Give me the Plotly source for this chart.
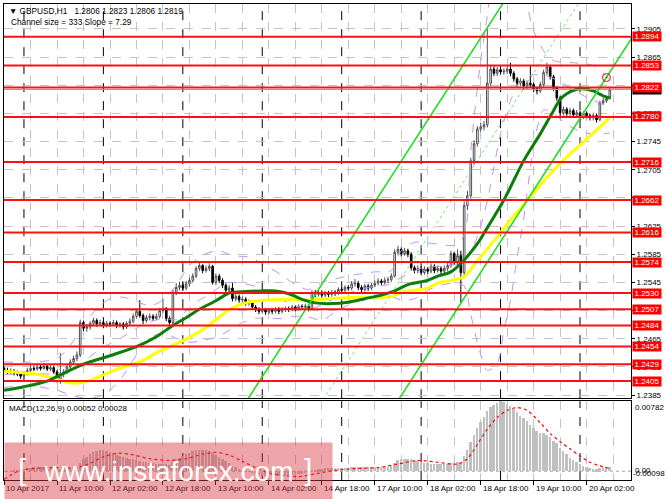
import plotly.graph_objects as go

# GBPUSD H1, bar 0 = 10 Apr 2017 18:00
opens = [1.2423, 1.2420, 1.2418, 1.2419, 1.2416, 1.2415, 1.2412, 1.2415, 1.2420, 1.2423,
         1.2422, 1.2425, 1.2423, 1.2426, 1.2422, 1.2424, 1.2418, 1.2408, 1.2415, 1.2418,
         1.2425, 1.2432, 1.2437, 1.2442, 1.2488, 1.2480, 1.2482, 1.2487, 1.2491, 1.2486,
         1.2488, 1.2484, 1.2487, 1.2486, 1.2488, 1.2484, 1.2486, 1.2482, 1.2487, 1.2490,
         1.2497, 1.2504, 1.2498, 1.2491, 1.2495, 1.2497, 1.2494, 1.2497, 1.2505, 1.2508,
         1.2494, 1.2488, 1.2531, 1.2538, 1.2541, 1.2537, 1.2543, 1.2548, 1.2554, 1.2565,
         1.2569, 1.2562, 1.2565, 1.2568, 1.2545, 1.2554, 1.2548, 1.2541, 1.2534, 1.2537,
         1.2522, 1.2525, 1.2520, 1.2521, 1.2515, 1.2517, 1.2510, 1.2507, 1.2504, 1.2506,
         1.2503, 1.2506, 1.2504, 1.2507, 1.2504, 1.2507, 1.2508, 1.2507, 1.2510, 1.2508,
         1.2511, 1.2510, 1.2511, 1.2508, 1.2531, 1.2528, 1.2531, 1.2527, 1.2530, 1.2528,
         1.2531, 1.2530, 1.2535, 1.2534, 1.2538, 1.2537, 1.2543, 1.2544, 1.2538, 1.2535,
         1.2540, 1.2537, 1.2541, 1.2544, 1.2547, 1.2545, 1.2548, 1.2549, 1.2554, 1.2588,
         1.2592, 1.2586, 1.2590, 1.2585, 1.2566, 1.2562, 1.2565, 1.2559, 1.2564, 1.2561,
         1.2568, 1.2562, 1.2565, 1.2561, 1.2565, 1.2569, 1.2586, 1.2573, 1.2583, 1.2559,
         1.2654, 1.2668, 1.2718, 1.2742, 1.2763, 1.2766, 1.2769, 1.2828, 1.2848, 1.2842,
         1.2847, 1.2844, 1.2845, 1.2848, 1.2842, 1.2834, 1.2828, 1.2831, 1.2824, 1.2828,
         1.2826, 1.2820, 1.2817, 1.2826, 1.2843, 1.2851, 1.2837, 1.2821, 1.2807, 1.2786,
         1.2791, 1.2785, 1.2789, 1.2783, 1.2786, 1.2780, 1.2785, 1.2782, 1.2779, 1.2782,
         1.2776, 1.2800, 1.2803, 1.2806]
highs = [1.2426, 1.2424, 1.2423, 1.2422, 1.2420, 1.2418, 1.2419, 1.2424, 1.2428, 1.2427,
         1.2430, 1.2429, 1.2431, 1.2429, 1.2428, 1.2427, 1.2421, 1.2445, 1.2422, 1.2428,
         1.2436, 1.2441, 1.2447, 1.2492, 1.2491, 1.2486, 1.2490, 1.2495, 1.2494, 1.2492,
         1.2491, 1.2490, 1.2490, 1.2492, 1.2491, 1.2489, 1.2489, 1.2490, 1.2494, 1.2501,
         1.2508, 1.2520, 1.2501, 1.2499, 1.2501, 1.2500, 1.2501, 1.2509, 1.2522, 1.2510,
         1.2497, 1.2535, 1.2544, 1.2546, 1.2545, 1.2547, 1.2552, 1.2558, 1.2568, 1.2573,
         1.2571, 1.2569, 1.2572, 1.2570, 1.2558, 1.2557, 1.2551, 1.2544, 1.2541, 1.2545,
         1.2529, 1.2528, 1.2525, 1.2524, 1.2521, 1.2520, 1.2513, 1.2510, 1.2509, 1.2509,
         1.2509, 1.2509, 1.2510, 1.2510, 1.2510, 1.2511, 1.2511, 1.2513, 1.2513, 1.2514,
         1.2514, 1.2515, 1.2514, 1.2534, 1.2534, 1.2534, 1.2534, 1.2533, 1.2533, 1.2534,
         1.2534, 1.2538, 1.2538, 1.2541, 1.2541, 1.2547, 1.2550, 1.2547, 1.2541, 1.2543,
         1.2543, 1.2544, 1.2548, 1.2551, 1.2550, 1.2552, 1.2553, 1.2558, 1.2592, 1.2597,
         1.2595, 1.2594, 1.2593, 1.2588, 1.2569, 1.2569, 1.2568, 1.2568, 1.2567, 1.2572,
         1.2571, 1.2569, 1.2568, 1.2569, 1.2573, 1.2590, 1.2589, 1.2592, 1.2590, 1.2660,
         1.2675, 1.2722, 1.2747, 1.2767, 1.2772, 1.2774, 1.2905, 1.2853, 1.2852, 1.2851,
         1.2850, 1.2849, 1.2852, 1.2857, 1.2845, 1.2837, 1.2835, 1.2834, 1.2832, 1.2853,
         1.2829, 1.2823, 1.2830, 1.2847, 1.2857, 1.2854, 1.2840, 1.2824, 1.2810, 1.2795,
         1.2794, 1.2793, 1.2792, 1.2790, 1.2789, 1.2788, 1.2788, 1.2785, 1.2786, 1.2785,
         1.2803, 1.2807, 1.2810, 1.2823]
lows = [1.2417, 1.2414, 1.2415, 1.2413, 1.2412, 1.2408, 1.2410, 1.2413, 1.2418, 1.2419,
        1.2420, 1.2420, 1.2421, 1.2419, 1.2419, 1.2415, 1.2403, 1.2401, 1.2410, 1.2415,
        1.2422, 1.2428, 1.2433, 1.2439, 1.2476, 1.2475, 1.2478, 1.2483, 1.2482, 1.2483,
        1.2480, 1.2481, 1.2482, 1.2483, 1.2480, 1.2481, 1.2478, 1.2479, 1.2484, 1.2487,
        1.2494, 1.2495, 1.2486, 1.2488, 1.2491, 1.2490, 1.2491, 1.2494, 1.2502, 1.2490,
        1.2484, 1.2486, 1.2527, 1.2534, 1.2533, 1.2534, 1.2539, 1.2545, 1.2551, 1.2561,
        1.2558, 1.2559, 1.2561, 1.2542, 1.2541, 1.2544, 1.2537, 1.2530, 1.2530, 1.2518,
        1.2518, 1.2516, 1.2516, 1.2512, 1.2512, 1.2507, 1.2503, 1.2500, 1.2501, 1.2499,
        1.2500, 1.2500, 1.2501, 1.2500, 1.2501, 1.2503, 1.2503, 1.2504, 1.2504, 1.2505,
        1.2506, 1.2506, 1.2504, 1.2506, 1.2524, 1.2525, 1.2523, 1.2524, 1.2524, 1.2525,
        1.2526, 1.2527, 1.2530, 1.2531, 1.2533, 1.2534, 1.2539, 1.2534, 1.2531, 1.2532,
        1.2533, 1.2534, 1.2538, 1.2541, 1.2541, 1.2542, 1.2544, 1.2546, 1.2552, 1.2584,
        1.2582, 1.2583, 1.2581, 1.2562, 1.2558, 1.2558, 1.2555, 1.2556, 1.2557, 1.2558,
        1.2558, 1.2559, 1.2557, 1.2558, 1.2561, 1.2566, 1.2570, 1.2570, 1.2515, 1.2555,
        1.2648, 1.2664, 1.2712, 1.2738, 1.2759, 1.2761, 1.2765, 1.2824, 1.2838, 1.2838,
        1.2840, 1.2840, 1.2841, 1.2838, 1.2830, 1.2823, 1.2824, 1.2819, 1.2820, 1.2822,
        1.2815, 1.2812, 1.2814, 1.2823, 1.2839, 1.2833, 1.2817, 1.2803, 1.2778, 1.2782,
        1.2781, 1.2781, 1.2779, 1.2779, 1.2776, 1.2777, 1.2778, 1.2775, 1.2775, 1.2772,
        1.2774, 1.2797, 1.2800, 1.2806]
closes = [1.2420, 1.2418, 1.2419, 1.2416, 1.2415, 1.2412, 1.2415, 1.2420, 1.2423, 1.2422,
          1.2425, 1.2423, 1.2426, 1.2422, 1.2424, 1.2418, 1.2408, 1.2415, 1.2418, 1.2425,
          1.2432, 1.2437, 1.2442, 1.2488, 1.2480, 1.2482, 1.2487, 1.2491, 1.2486, 1.2488,
          1.2484, 1.2487, 1.2486, 1.2488, 1.2484, 1.2486, 1.2482, 1.2487, 1.2490, 1.2497,
          1.2504, 1.2498, 1.2491, 1.2495, 1.2497, 1.2494, 1.2497, 1.2505, 1.2508, 1.2494,
          1.2488, 1.2531, 1.2538, 1.2541, 1.2537, 1.2543, 1.2548, 1.2554, 1.2565, 1.2569,
          1.2562, 1.2565, 1.2568, 1.2545, 1.2554, 1.2548, 1.2541, 1.2534, 1.2537, 1.2522,
          1.2525, 1.2520, 1.2521, 1.2515, 1.2517, 1.2510, 1.2507, 1.2504, 1.2506, 1.2503,
          1.2506, 1.2504, 1.2507, 1.2504, 1.2507, 1.2508, 1.2507, 1.2510, 1.2508, 1.2511,
          1.2510, 1.2511, 1.2508, 1.2531, 1.2528, 1.2531, 1.2527, 1.2530, 1.2528, 1.2531,
          1.2530, 1.2535, 1.2534, 1.2538, 1.2537, 1.2543, 1.2544, 1.2538, 1.2535, 1.2540,
          1.2537, 1.2541, 1.2544, 1.2547, 1.2545, 1.2548, 1.2549, 1.2554, 1.2588, 1.2592,
          1.2586, 1.2590, 1.2585, 1.2566, 1.2562, 1.2565, 1.2559, 1.2564, 1.2561, 1.2568,
          1.2562, 1.2565, 1.2561, 1.2565, 1.2569, 1.2586, 1.2573, 1.2583, 1.2559, 1.2654,
          1.2668, 1.2718, 1.2742, 1.2763, 1.2766, 1.2769, 1.2828, 1.2848, 1.2842, 1.2847,
          1.2844, 1.2845, 1.2848, 1.2842, 1.2834, 1.2828, 1.2831, 1.2824, 1.2828, 1.2826,
          1.2820, 1.2817, 1.2826, 1.2843, 1.2851, 1.2837, 1.2821, 1.2807, 1.2786, 1.2791,
          1.2785, 1.2789, 1.2783, 1.2786, 1.2780, 1.2785, 1.2782, 1.2779, 1.2782, 1.2776,
          1.2800, 1.2803, 1.2806, 1.2819]

# moving averages (bar index, price)
green_idx = [0, 6, 13, 18, 24, 32, 40, 46, 51, 55, 59, 64, 68, 73, 78, 82, 86, 90, 94, 99,
             104, 109, 114, 118, 122, 128, 131, 135, 139, 143, 145, 151, 157, 162, 166, 168,
             170, 174, 178, 181, 183]
green_val = [1.2392, 1.2397, 1.2405, 1.2416, 1.2429, 1.2441, 1.2454, 1.2468, 1.2484, 1.2495,
             1.2507, 1.2519, 1.2530, 1.2532, 1.2533, 1.2533, 1.2529, 1.2521, 1.2516, 1.2515,
             1.2517, 1.2522, 1.2527, 1.2533, 1.2542, 1.2548, 1.2554, 1.2560, 1.2577, 1.2600,
             1.2615, 1.2662, 1.2718, 1.2756, 1.2789, 1.2805, 1.2813, 1.2820, 1.2817, 1.2810,
             1.2807]
yellow_idx = [0, 5, 11, 17, 21, 26, 31, 36, 41, 46, 51, 56, 61, 65, 69, 73, 77, 86, 92, 98,
              108, 117, 120, 128, 131, 135, 139, 143, 148, 152, 158, 164, 168, 173, 178, 183]
yellow_val = [1.2419, 1.2417, 1.2414, 1.2406, 1.2402, 1.2406, 1.2416, 1.2425, 1.2432, 1.2445,
              1.2456, 1.2467, 1.2481, 1.2496, 1.2509, 1.2516, 1.2519, 1.2521, 1.2520, 1.2522,
              1.2524, 1.2525, 1.2531, 1.2537, 1.2544, 1.2548, 1.2553, 1.2576, 1.2604, 1.2628,
              1.2661, 1.2694, 1.2714, 1.2736, 1.2757, 1.2779]

# bands (purple dashed)
upper_idx = [0, 8, 16, 20, 24, 28, 32, 36, 40, 44, 48, 52, 56, 61, 65, 69, 74, 78, 84, 88,
             92, 96, 100, 106, 112, 117, 120, 124, 130, 136, 139, 141, 144, 146, 148, 156,
             158, 160, 163, 166, 172, 178, 183]
upper_val = [1.2432, 1.2432, 1.2437, 1.2456, 1.2484, 1.2508, 1.2522, 1.2524, 1.2518, 1.2512,
             1.2520, 1.2541, 1.2569, 1.2586, 1.2590, 1.2583, 1.2581, 1.2572, 1.2555, 1.2542,
             1.2535, 1.2545, 1.2550, 1.2556, 1.2560, 1.2562, 1.2590, 1.2602, 1.2600, 1.2598,
             1.2612, 1.2732, 1.2860, 1.2923, 1.2975, 1.2975, 1.2938, 1.2902, 1.2874, 1.2860,
             1.2857, 1.2853, 1.2834]
mid_idx = [0, 8, 16, 20, 24, 28, 32, 36, 40, 44, 48, 52, 54, 58, 62, 67, 70, 77, 82, 88,
           93, 98, 104, 110, 116, 120, 126, 132, 136, 140, 143, 146, 150, 153, 156, 160,
           164, 168, 172, 176, 180, 183]
mid_val = [1.2414, 1.2416, 1.2415, 1.2418, 1.2432, 1.2447, 1.2458, 1.2468, 1.2480, 1.2489,
           1.2494, 1.2492, 1.2500, 1.2517, 1.2528, 1.2544, 1.2545, 1.2538, 1.2525, 1.2512,
           1.2508, 1.2518, 1.2530, 1.2538, 1.2542, 1.2552, 1.2565, 1.2568, 1.2570, 1.2580,
           1.2610, 1.2661, 1.2756, 1.2803, 1.2830, 1.2840, 1.2838, 1.2830, 1.2818, 1.2808,
           1.2800, 1.2797]
lower_idx = [0, 8, 16, 20, 24, 28, 32, 36, 40, 44, 48, 52, 56, 60, 64, 68, 72, 76, 84, 88,
             92, 96, 100, 104, 108, 112, 116, 120, 124, 128, 132, 136, 139, 141, 143, 146,
             149, 151, 153, 155, 157, 159, 161, 163, 166, 170, 176, 183]
lower_val = [1.2396, 1.2398, 1.2392, 1.2385, 1.2381, 1.2382, 1.2392, 1.2413, 1.2442, 1.2466,
             1.2473, 1.2466, 1.2460, 1.2463, 1.2467, 1.2477, 1.2488, 1.2494, 1.2494, 1.2497,
             1.2496, 1.2491, 1.2503, 1.2513, 1.2522, 1.2527, 1.2527, 1.2520, 1.2522, 1.2534,
             1.2541, 1.2544, 1.2540, 1.2500, 1.2460, 1.2420, 1.2430, 1.2477, 1.2520, 1.2580,
             1.2636, 1.2707, 1.2763, 1.2790, 1.2785, 1.2769, 1.2757, 1.2757]

# equidistant channel (size 333 pips, slope 7.29 pips/bar), end points
channel_x = [60, 190]
channel_low = [1.19469, 1.28946]
channel_mid = [1.21134, 1.30611]
channel_up = [1.22799, 1.32276]

# MACD(12,26,9)
macd_hist = [0.0000, -0.0001, 0.0000, 0.0001, 0.0001, 0.0002, 0.0002, 0.0003, 0.0003, 0.0004,
             0.0004, 0.0005, 0.0005, 0.0005, 0.0005, 0.0004, 0.0003, 0.0002, 0.0002, 0.0003,
             0.0003, 0.0004, 0.0005, 0.0009, 0.0013, 0.0016, 0.0019, 0.0021, 0.0022, 0.0023,
             0.0023, 0.0022, 0.0021, 0.0020, 0.0018, 0.0017, 0.0016, 0.0015, 0.0014, 0.0013,
             0.0012, 0.0011, 0.0010, 0.0010, 0.0009, 0.0009, 0.0008, 0.0008, 0.0008, 0.0008,
             0.0007, 0.0010, 0.0013, 0.0015, 0.0017, 0.0019, 0.0020, 0.0022, 0.0023, 0.0024,
             0.0024, 0.0023, 0.0022, 0.0020, 0.0018, 0.0016, 0.0014, 0.0011, 0.0009, 0.0006,
             0.0004, 0.0002, 0.0001, 0.0000, -0.0001, -0.0002, -0.0003, -0.0004, -0.0005, -0.0005,
             -0.0006, -0.0006, -0.0006, -0.0005, -0.0005, -0.0005, -0.0004, -0.0004, -0.0003, -0.0003,
             -0.0003, -0.0002, -0.0002, 0.0000, 0.0001, 0.0002, 0.0002, 0.0003, 0.0003, 0.0003,
             0.0003, 0.0003, 0.0003, 0.0003, 0.0003, 0.0004, 0.0004, 0.0004, 0.0004, 0.0004,
             0.0004, 0.0004, 0.0004, 0.0005, 0.0005, 0.0005, 0.0005, 0.0006, 0.0009, 0.0012,
             0.0013, 0.0014, 0.0014, 0.0013, 0.0012, 0.0011, 0.0010, 0.0009, 0.0009, 0.0008,
             0.0008, 0.0008, 0.0008, 0.0008, 0.0008, 0.0009, 0.0009, 0.0010, 0.0009, 0.0017,
             0.0024, 0.0032, 0.0040, 0.0048, 0.0055, 0.0060, 0.0067, 0.0071, 0.0074, 0.0076,
             0.0078, 0.0077, 0.0075, 0.0073, 0.0069, 0.0066, 0.0062, 0.0059, 0.0056, 0.0051,
             0.0048, 0.0045, 0.0043, 0.0042, 0.0040, 0.0038, 0.0034, 0.0031, 0.0026, 0.0022,
             0.0019, 0.0015, 0.0012, 0.0010, 0.0008, 0.0006, 0.0004, 0.0003, 0.0002, 0.0002,
             0.0003, 0.0004, 0.0004, 0.0005]
sig_idx = [0, 5, 14, 22, 26, 30, 34, 38, 44, 50, 55, 60, 64, 68, 72, 76, 80, 85, 89, 94,
           100, 106, 113, 119, 125, 131, 137, 140, 143, 146, 149, 152, 155, 158, 162, 165,
           168, 171, 174, 177, 180, 183]
sig_val = [-0.0009, 0.0001, 0.0004, 0.0004, 0.0009, 0.0016, 0.0020, 0.0019, 0.0014, 0.0012,
           0.0014, 0.0019, 0.0021, 0.0018, 0.0011, 0.0004, -0.0002, -0.0005, -0.0006, -0.0003,
           0.0001, 0.0003, 0.0004, 0.0008, 0.0012, 0.0010, 0.0008, 0.0014, 0.0030, 0.0047,
           0.0060, 0.0068, 0.0071, 0.0068, 0.0054, 0.0042, 0.0033, 0.0025, 0.0017, 0.0010,
           0.0006, 0.0003]

# horizontal support / resistance levels
levels = [1.2894, 1.2853, 1.2822, 1.2780, 1.2716, 1.2662, 1.2616, 1.2574,
          1.2530, 1.2507, 1.2484, 1.2454, 1.2429, 1.2405]
bid = 1.2819
alert_bar, alert_price = 182, 1.2836

price_ticks = [1.2385, 1.2425, 1.2465, 1.2505, 1.2545, 1.2585, 1.2625,
               1.2665, 1.2705, 1.2745, 1.2785, 1.2825, 1.2865, 1.2905]
grid_bars = list(range(0, 190, 8))
label_bars = [0, 16, 32, 48, 64, 80, 96, 112, 128, 144, 160, 176]
label_text = ['10 Apr 2017', '11 Apr 10:00', '12 Apr 02:00', '12 Apr 18:00',
              '13 Apr 10:00', '14 Apr 02:00', '14 Apr 18:00', '17 Apr 10:00',
              '18 Apr 02:00', '18 Apr 18:00', '19 Apr 10:00', '20 Apr 02:00']
day_starts = [6, 30, 54, 78, 102, 126, 150, 174]

bars = list(range(len(closes)))
FONT = 'Liberation Sans, Arial, sans-serif'
GRID = '#c4c4c4'
BAND = '#c78ef0'

fig = go.Figure()

fig.add_trace(go.Candlestick(
    x=bars, open=opens, high=highs, low=lows, close=closes,
    xaxis='x2', yaxis='y', whiskerwidth=0, hoverinfo='skip',
    increasing=dict(line=dict(color='#505050', width=1), fillcolor='white'),
    decreasing=dict(line=dict(color='black', width=1), fillcolor='black')))

for xs, ys in [(upper_idx, upper_val), (mid_idx, mid_val), (lower_idx, lower_val)]:
    fig.add_trace(go.Scatter(x=xs, y=ys, xaxis='x2', yaxis='y', mode='lines',
                             line=dict(color=BAND, width=1, dash='dash',
                                       shape='spline', smoothing=0.8),
                             hoverinfo='skip'))

fig.add_trace(go.Scatter(x=yellow_idx, y=yellow_val, xaxis='x2', yaxis='y', mode='lines',
                         line=dict(color='#ffff00', width=3, shape='spline', smoothing=0.8),
                         hoverinfo='skip'))
fig.add_trace(go.Scatter(x=green_idx, y=green_val, xaxis='x2', yaxis='y', mode='lines',
                         line=dict(color='#0b7d0b', width=3, shape='spline', smoothing=0.8),
                         hoverinfo='skip'))

fig.add_trace(go.Scatter(x=channel_x, y=channel_mid, xaxis='x2', yaxis='y', mode='lines',
                         line=dict(color='#66ee66', width=1, dash='dot'), hoverinfo='skip'))
for ys in [channel_low, channel_up]:
    fig.add_trace(go.Scatter(x=channel_x, y=ys, xaxis='x2', yaxis='y', mode='lines',
                             line=dict(color='#22dd22', width=1.6), hoverinfo='skip'))

fig.add_trace(go.Scatter(x=[alert_bar], y=[alert_price], xaxis='x2', yaxis='y', mode='markers',
                         marker=dict(symbol='circle-open-dot', size=8, color='red',
                                     line=dict(width=1)),
                         hoverinfo='skip'))

# MACD panel
fig.add_trace(go.Bar(x=bars, y=macd_hist, xaxis='x', yaxis='y2', width=0.6,
                     marker=dict(color='#c0c0c0', line=dict(width=0)), hoverinfo='skip'))
fig.add_trace(go.Scatter(x=sig_idx, y=sig_val, xaxis='x', yaxis='y2', mode='lines',
                         line=dict(color='red', width=1.2, dash='dot',
                                   shape='spline', smoothing=0.8),
                         hoverinfo='skip'))

shapes = []
for d in day_starts:
    shapes.append(dict(type='line', xref='x2', yref='y domain', x0=d, x1=d, y0=0, y1=1,
                       line=dict(color='black', width=1, dash='dash'), layer='below'))
    shapes.append(dict(type='line', xref='x', yref='y2 domain', x0=d, x1=d, y0=0, y1=1,
                       line=dict(color='black', width=1, dash='dash'), layer='below'))
shapes.append(dict(type='line', xref='x domain', yref='y2', x0=0, x1=1, y0=0, y1=0,
                   line=dict(color='#a8a8a8', width=1, dash='dot'), layer='below'))
shapes.append(dict(type='line', xref='paper', yref='y', x0=0, x1=1, y0=bid, y1=bid,
                   line=dict(color='#a0a0a0', width=1), layer='above'))
for lv in levels:
    shapes.append(dict(type='line', xref='paper', yref='y', x0=0, x1=1, y0=lv, y1=lv,
                       line=dict(color='#ff1010', width=2), layer='above'))

annotations = []
for b, t in zip(label_bars, label_text):
    annotations.append(dict(x=b, xref='x', y=0, yref='paper', xanchor='left', yanchor='top',
                            yshift=-2, text=t, showarrow=False,
                            font=dict(family=FONT, size=8, color='black')))

annotations.append(dict(x=1, xref='paper', xanchor='left', xshift=1, y=bid, yref='y',
                        text=f'{bid:.4f}', showarrow=False, bgcolor='black', borderpad=0,
                        width=28, height=9, font=dict(family=FONT, size=8, color='white')))
for lv in levels:
    annotations.append(dict(x=1, xref='paper', xanchor='left', xshift=1, y=lv, yref='y',
                            text=f'{lv:.4f}', showarrow=False, bgcolor='#ff0000', borderpad=0,
                            width=28, height=9, font=dict(family=FONT, size=8, color='white')))

NB = '\u00a0'
annotations += [
    dict(x=0, xref='paper', y=1, yref='paper', xanchor='left', yanchor='top',
         xshift=3, yshift=0, showarrow=False,
         text='\u25bc GBPUSD,H1' + NB * 3 + '1.2806 1.2823 1.2806 1.2819',
         font=dict(family=FONT, size=8.3, color='black')),
    dict(x=0, xref='paper', y=1, yref='paper', xanchor='left', yanchor='top',
         xshift=5, yshift=-11, showarrow=False, text='Channel size = 333 Slope = 7.29',
         font=dict(family=FONT, size=8.3, color='black')),
    dict(x=0, xref='paper', y=0.1656, yref='paper', xanchor='left', yanchor='top',
         xshift=3, yshift=-1, showarrow=False, text='MACD(12,26,9) 0.00052 0.00028',
         font=dict(family=FONT, size=8, color='black')),
    dict(x=1, xref='paper', xanchor='left', xshift=2, y=0.00782, yref='y2', yanchor='top',
         showarrow=False, text='0.00782', font=dict(family=FONT, size=8, color='black')),
    dict(x=1, xref='paper', xanchor='left', xshift=0, y=-0.00098, yref='y2', yanchor='bottom',
         showarrow=False, text='-0.00098', font=dict(family=FONT, size=8, color='black')),
    dict(x=1, xref='paper', xanchor='left', xshift=2, y=0, yref='y2', yanchor='middle',
         yshift=1, showarrow=False, text='0.00', font=dict(family=FONT, size=8, color='black')),
]

# watermark
annotations += [
    dict(x=0, xref='paper', y=0, yref='paper', xanchor='left', yanchor='top',
         yshift=38, width=327, height=56, showarrow=False, borderpad=0,
         bgcolor='rgba(215,55,65,0.45)', text='www.instaforex.com', align='center',
         valign='middle', font=dict(family=FONT, size=28, color='white')),
    dict(x=(22 - 3) / 630, xref='paper', y=(480 - 469) / 477, yref='paper',
         xanchor='center', yanchor='middle', showarrow=False, text='[',
         font=dict(family=FONT, size=30, color='white')),
    dict(x=(308 - 3) / 630, xref='paper', y=(480 - 469) / 477, yref='paper',
         xanchor='center', yanchor='middle', showarrow=False, text=']',
         font=dict(family=FONT, size=30, color='white')),
]

xr = [-0.03, 189.41]
fig.update_layout(
    width=665, height=499,
    margin=dict(l=3, r=32, t=3, b=19),
    paper_bgcolor='white', plot_bgcolor='white',
    showlegend=False,
    font=dict(family=FONT, size=8, color='black'),
    xaxis=dict(domain=[0, 1], anchor='y2', range=xr, tickvals=label_bars,
               ticktext=[''] * len(label_bars), ticks='outside', ticklen=4,
               tickcolor='black', showgrid=True, gridcolor=GRID, griddash='dash',
               minor=dict(tickvals=grid_bars, showgrid=True, gridcolor=GRID,
                          griddash='dash', ticks=''),
               showline=True, linecolor='black', mirror=True, zeroline=False,
               rangeslider=dict(visible=False), fixedrange=True),
    xaxis2=dict(domain=[0, 1], anchor='y', matches='x', range=xr, tickvals=grid_bars,
                showticklabels=False, ticks='', showgrid=True, gridcolor=GRID,
                griddash='dash', showline=True, linecolor='black', mirror=True,
                zeroline=False, rangeslider=dict(visible=False)),
    yaxis=dict(domain=[0.1719, 1], anchor='x2', side='right', range=[1.23807, 1.29404],
               tickvals=price_ticks, ticktext=[f'{p:.4f}' for p in price_ticks],
               ticks='outside', ticklen=3, tickcolor='black', showgrid=True,
               gridcolor=GRID, griddash='dash', showline=True, linecolor='black',
               mirror=True, zeroline=False, tickfont=dict(family=FONT, size=8)),
    yaxis2=dict(domain=[0, 0.1656], anchor='x', side='right', range=[-0.00098, 0.00782],
                showticklabels=False, ticks='', showgrid=False, zeroline=False,
                showline=True, linecolor='black', mirror=True),
    shapes=shapes,
    annotations=annotations,
    bargap=0,
)

# page body margin would otherwise shift the 665x499 figure
fig.write_html("out.html", config={'displayModeBar': False},
               post_script="document.body.style.margin='0px';")
